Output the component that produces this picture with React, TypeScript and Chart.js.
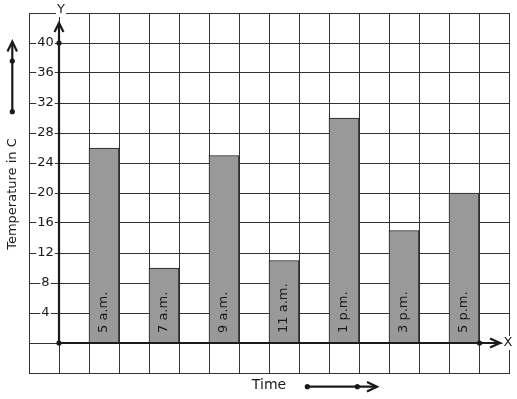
import React, { useEffect, useRef } from "react";
import { Chart, registerables } from "chart.js";

Chart.register(...registerables);

const times = ["5 a.m.", "7 a.m.", "9 a.m.", "11 a.m.", "1 p.m.", "3 p.m.", "5 p.m."];
const temps = [26, 10, 25, 11, 30, 15, 20];
const yTickLabels = [4, 8, 12, 16, 20, 24, 28, 32, 36, 40];
const COLUMN_COUNT = 16;
const Y_MIN = -4;
const Y_MAX = 44;
const Y_STEP = 4;

const FONT = "DejaVu Sans, sans-serif";
const INK = "#1a1a1a";

const columnLabels: string[] = Array.from({ length: COLUMN_COUNT }, () => "");
const columnValues: (number | null)[] = Array.from({ length: COLUMN_COUNT }, () => null);
times.forEach((t, i) => {
  columnLabels[2 + i * 2] = t;
  columnValues[2 + i * 2] = temps[i];
});

function dot(ctx: CanvasRenderingContext2D, x: number, y: number, r = 2.6) {
  ctx.beginPath();
  ctx.arc(x, y, r, 0, Math.PI * 2);
  ctx.fillStyle = INK;
  ctx.fill();
}

function textWithBg(ctx: CanvasRenderingContext2D, s: string, x: number, y: number, font: string) {
  ctx.save();
  ctx.font = font;
  const w = ctx.measureText(s).width;
  ctx.fillStyle = "#fff";
  ctx.fillRect(x - w / 2 - 1, y - 7, w + 2, 14);
  ctx.fillStyle = INK;
  ctx.textAlign = "center";
  ctx.textBaseline = "middle";
  ctx.fillText(s, x, y);
  ctx.restore();
}

const decorPlugin = {
  id: "decor",
  afterDatasetsDraw(chart: any) {
    const ctx: CanvasRenderingContext2D = chart.ctx;
    const xs = chart.scales.x;
    const ys = chart.scales.y;
    const area = chart.chartArea;
    const ox = xs.getPixelForValue(0) + (xs.getPixelForValue(1) - xs.getPixelForValue(0)) / 2;
    const oy = ys.getPixelForValue(0);

    ctx.save();
    // bar labels
    ctx.font = `13px ${FONT}`;
    ctx.fillStyle = INK;
    ctx.textAlign = "left";
    ctx.textBaseline = "middle";
    columnLabels.forEach((lab, i) => {
      if (!lab) return;
      const cx = xs.getPixelForValue(i);
      ctx.save();
      ctx.translate(cx, oy - 10);
      ctx.rotate(-Math.PI / 2);
      ctx.fillText(lab, 0, 0);
      ctx.restore();
    });

    // y tick labels
    yTickLabels.forEach((v) => {
      textWithBg(ctx, String(v), area.left + 16.5, ys.getPixelForValue(v), `13px ${FONT}`);
    });

    // axes
    ctx.strokeStyle = INK;
    ctx.lineWidth = 2.2;
    ctx.lineCap = "butt";
    const yTip = area.top + 10;
    ctx.beginPath();
    ctx.moveTo(ox, oy);
    ctx.lineTo(ox, yTip + 1);
    ctx.stroke();
    ctx.beginPath();
    ctx.moveTo(ox - 4.5, yTip + 9);
    ctx.lineTo(ox, yTip);
    ctx.lineTo(ox + 4.5, yTip + 9);
    ctx.stroke();

    const xTip = area.right - 9;
    ctx.beginPath();
    ctx.moveTo(ox, oy);
    ctx.lineTo(xTip - 1, oy);
    ctx.stroke();
    ctx.beginPath();
    ctx.moveTo(xTip - 10, oy - 4.5);
    ctx.lineTo(xTip, oy);
    ctx.lineTo(xTip - 10, oy + 4.5);
    ctx.stroke();

    dot(ctx, ox, oy);
    dot(ctx, ox, ys.getPixelForValue(40));
    dot(ctx, area.right - 29.5, oy);

    textWithBg(ctx, "Y", ox + 2, area.top - 3, `13px ${FONT}`);
    textWithBg(ctx, "X", area.right - 1, oy, `13px ${FONT}`);

    // y title
    ctx.save();
    ctx.font = `13px ${FONT}`;
    ctx.fillStyle = INK;
    ctx.textAlign = "center";
    ctx.textBaseline = "middle";
    ctx.translate(13, 194);
    ctx.rotate(-Math.PI / 2);
    ctx.fillText("Temperature in C", 0, 0);
    ctx.restore();

    // left decorative arrow
    ctx.lineWidth = 2.2;
    ctx.beginPath();
    ctx.moveTo(12.3, 111.7);
    ctx.lineTo(12.3, 43);
    ctx.stroke();
    ctx.beginPath();
    ctx.moveTo(7.5, 51.5);
    ctx.lineTo(12.3, 41.5);
    ctx.lineTo(17, 51.5);
    ctx.stroke();
    dot(ctx, 12.3, 61);
    dot(ctx, 12.3, 111.7);

    // x title
    ctx.font = `14px ${FONT}`;
    ctx.fillStyle = INK;
    ctx.textAlign = "center";
    ctx.textBaseline = "middle";
    ctx.fillText("Time", 269, 385);

    // bottom decorative arrow
    ctx.beginPath();
    ctx.moveTo(307.3, 386.7);
    ctx.lineTo(376, 386.7);
    ctx.stroke();
    ctx.beginPath();
    ctx.moveTo(367, 382);
    ctx.lineTo(377, 386.7);
    ctx.lineTo(367, 391.4);
    ctx.stroke();
    dot(ctx, 307.3, 386.7);
    dot(ctx, 357.3, 386.7);

    ctx.restore();
  },
};

export default function App() {
  const ref = useRef<HTMLCanvasElement | null>(null);
  useEffect(() => {
    if (!ref.current) return;
    const chart = new Chart(ref.current, {
      type: "bar",
      data: {
        labels: columnLabels.map((l, i) => l || `c${i}`),
        datasets: [
          {
            data: columnValues as any,
            backgroundColor: "#999999",
            borderColor: "#1a1a1a",
            borderWidth: 1,
            borderSkipped: "bottom",
            barPercentage: 1,
            categoryPercentage: 1,
          },
        ],
      },
      options: {
        responsive: false,
        animation: false,
        layout: { padding: { left: 29, top: 13, right: 8, bottom: 26 } },
        plugins: { legend: { display: false }, tooltip: { enabled: false } },
        scales: {
          x: {
            type: "category",
            grid: { color: "#333", lineWidth: 1, drawTicks: false, offset: true },
            border: { display: true, color: "#333" },
            ticks: { display: false },
          },
          y: {
            min: Y_MIN,
            max: Y_MAX,
            grid: { color: "#333", lineWidth: 1, drawTicks: false },
            border: { display: true, color: "#333" },
            ticks: { display: false, stepSize: Y_STEP },
          },
        },
      },
      plugins: [decorPlugin],
    });
    return () => chart.destroy();
  }, []);
  return (
    <div style={{ position: "fixed", left: 0, top: 0, width: 517, height: 399, background: "#fff" }}>
      <canvas ref={ref} width={517} height={399} style={{ display: "block" }} />
    </div>
  );
}
